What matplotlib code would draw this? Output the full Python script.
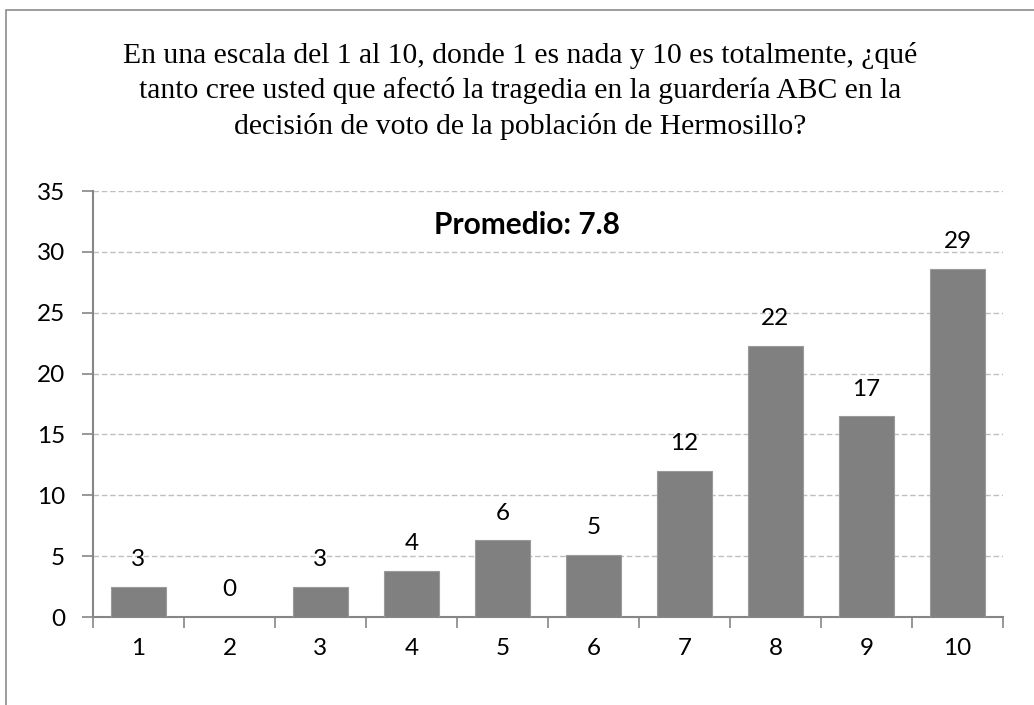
import matplotlib.pyplot as plt
from matplotlib.patches import Rectangle
from matplotlib.ticker import FixedLocator

# data
escala = [1, 2, 3, 4, 5, 6, 7, 8, 9, 10]
porcentaje = [2.5, 0.0, 2.5, 3.8, 6.3, 5.1, 12.0, 22.3, 16.5, 28.6]
etiquetas = ["3", "0", "3", "4", "6", "5", "12", "22", "17", "29"]
titulo = ("En una escala del 1 al 10, donde 1 es nada y 10 es totalmente, ¿qué\n"
          "tanto cree usted que afectó la tragedia en la guardería ABC en la\n"
          "decisión de voto de la población de Hermosillo?")
promedio = "Promedio: 7.8"

sans = ["Lato", "DejaVu Sans"]
gris_eje = "#868686"
tam = 17.5

fig = plt.figure(figsize=(10.34, 7.05), dpi=100)
ax = fig.add_axes([0.0899, 0.1248, 0.8801, 0.6042])

ax.bar(escala, porcentaje, width=0.6, color="#808080", edgecolor="#9a9a9a",
       linewidth=0.8, zorder=3)

for x, v, lab in zip(escala, porcentaje, etiquetas):
    ax.annotate(lab, (x, v), xytext=(0, 19.5), textcoords="offset points",
                ha="center", va="center", fontsize=tam, family=sans)

ax.set_xlim(0.5, 10.5)
ax.set_ylim(0, 35)
ax.set_yticks(range(0, 36, 5))
ax.set_xticks(escala)
ax.xaxis.set_minor_locator(FixedLocator([i + 0.5 for i in range(0, 11)]))
ax.tick_params(axis="x", which="major", length=0, pad=15, labelsize=tam)
ax.tick_params(axis="x", which="minor", length=8, color=gris_eje, width=1.2)
ax.tick_params(axis="y", length=8, color=gris_eje, width=1.2, pad=12, labelsize=tam)
for lab in ax.get_xticklabels() + ax.get_yticklabels():
    lab.set_family(sans)

ax.yaxis.grid(True, linestyle=(0, (4, 2)), color="#bfbfbf", linewidth=1.0, zorder=0)
ax.set_axisbelow(True)
for s in ["top", "right"]:
    ax.spines[s].set_visible(False)
for s in ["left", "bottom"]:
    ax.spines[s].set_color(gris_eje)
    ax.spines[s].set_linewidth(1.5)

ax.text(0.477, 0.92, promedio, transform=ax.transAxes, ha="center", va="center",
        fontsize=21.5, fontweight="bold", family=sans)

fig.text(0.503, 0.871, titulo, ha="center", va="center", fontsize=21.3,
         family=["Liberation Serif", "DejaVu Serif"], linespacing=1.4)

# outer chart frame (only top and left edges fall inside the picture)
fig.patches.append(Rectangle((5.5 / 1034, -0.1), 1.2, 1.1 - 9.5 / 705,
                             transform=fig.transFigure, fill=False,
                             edgecolor="#8c8c8c", linewidth=1.2))

fig.savefig("out.png", dpi=100)
